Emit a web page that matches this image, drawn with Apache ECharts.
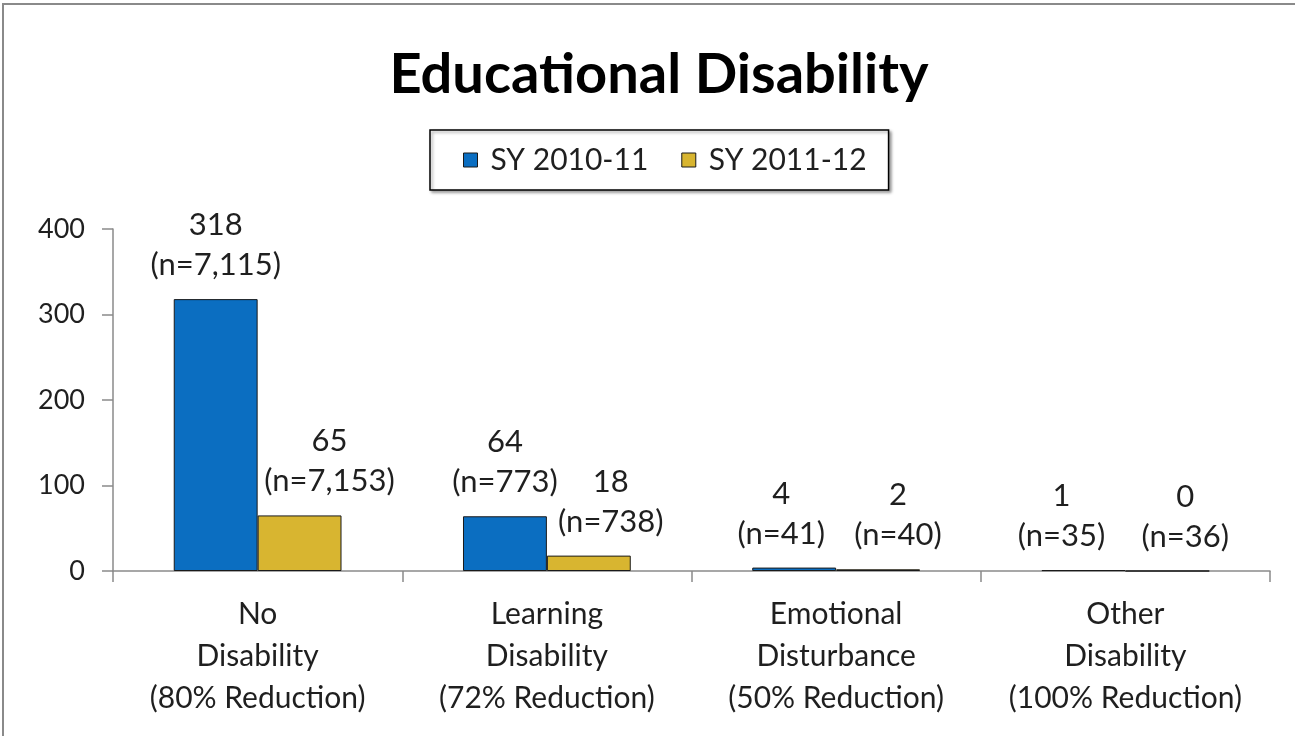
<!DOCTYPE html>
<html>
<head>
<meta charset="utf-8">
<script src="https://cdn.jsdelivr.net/npm/echarts@6/dist/echarts.min.js"></script>
<style>
html,body{margin:0;padding:0;background:#fff;}
#c{width:1295px;height:736px;}
</style>
</head>
<body>
<div id="c"></div>
<script>
var titleText = 'Educational Disability';
var seriesNames = ['SY 2010-11', 'SY 2011-12'];
var categories = ['No\nDisability\n(80% Reduction)', 'Learning\nDisability\n(72% Reduction)', 'Emotional\nDisturbance\n(50% Reduction)', 'Other\nDisability\n(100% Reduction)'];
var values2010 = [318, 64, 4, 1];
var values2011 = [65, 18, 2, 0];
var n2010 = [7115, 773, 41, 35];
var n2011 = [7153, 738, 40, 36];
var yTicks = [0, 100, 200, 300, 400];

// label horizontal offsets (styling only)
var off2010 = [0, 0, -13, -22];
var off2011 = [30, 22, 20, 18];

var FONT = 'Lato, "Open Sans", sans-serif';
var TXT = '#1f1f1f';

function fmt(n){ return n.toString().replace(/\B(?=(\d{3})+(?!\d))/g, ','); }

function mk(vals, ns, offs){
  return vals.map(function(v, i){
    return {
      value: v,
      label: { offset: [offs[i], 0], formatter: v + '\n(n=' + fmt(ns[i]) + ')' }
    };
  });
}

var chart = echarts.init(document.getElementById('c'));
chart.setOption({
  backgroundColor: '#fff',
  animation: false,
  title: {
    text: titleText,
    left: 654, top: 42, textAlign: 'center',
    textStyle: { fontFamily: FONT, fontWeight: 'bold', fontSize: 56, color: '#000' }
  },
  legend: {
    data: seriesNames,
    left: 430, top: 130,
    padding: [14, 22, 14, 33],
    itemWidth: 14, itemHeight: 14, itemGap: 33,
    borderColor: '#000', borderWidth: 1.5,
    shadowColor: 'rgba(0,0,0,0.35)', shadowBlur: 3, shadowOffsetX: 2, shadowOffsetY: 2,
    backgroundColor: '#fff',
    icon: 'rect',
    itemStyle: { borderColor: '#1a1a1a', borderWidth: 1 },
    textStyle: { fontFamily: FONT, fontSize: 30, color: TXT, padding: [0, 0, 0, 8], lineHeight: 32 }
  },
  graphic: [{
    type: 'rect', silent: true, z: 100,
    shape: { x: 3, y: 4, width: 1320, height: 760 },
    style: { fill: 'none', stroke: '#8a8a8a', lineWidth: 2 }
  }],
  grid: { left: 113, right: 25, top: 229, bottom: 165 },
  xAxis: {
    type: 'category',
    data: categories,
    axisLine: { lineStyle: { color: '#8a8a8a', width: 1.5 } },
    axisTick: { show: true, length: 11, lineStyle: { color: '#8a8a8a', width: 1.5 } },
    axisLabel: { fontFamily: FONT, fontSize: 30, color: TXT, lineHeight: 42, margin: 22, interval: 0 }
  },
  yAxis: {
    type: 'value',
    min: yTicks[0], max: yTicks[yTicks.length - 1], interval: 100,
    splitLine: { show: false },
    axisLine: { show: true, lineStyle: { color: '#8a8a8a', width: 1.5 } },
    axisTick: { show: true, length: 11, lineStyle: { color: '#8a8a8a', width: 1.5 } },
    axisLabel: { fontFamily: FONT, fontSize: 27, color: TXT, margin: 28 }
  },
  series: [{
    name: seriesNames[0], type: 'bar',
    data: mk(values2010, n2010, off2010),
    barGap: '0%', barCategoryGap: '42%',
    itemStyle: { color: '#0B6EC1', borderColor: '#1a1a1a', borderWidth: 1 },
    label: { show: true, position: 'top', distance: 14, fontFamily: FONT, fontSize: 31, color: TXT, lineHeight: 40, align: 'center' }
  }, {
    name: seriesNames[1], type: 'bar',
    data: mk(values2011, n2011, off2011),
    barGap: '0%', barCategoryGap: '42%',
    itemStyle: { color: '#D8B530', borderColor: '#1a1a1a', borderWidth: 1 },
    label: { show: true, position: 'top', distance: 14, fontFamily: FONT, fontSize: 31, color: TXT, lineHeight: 40, align: 'center' }
  }]
});
</script>
</body>
</html>
